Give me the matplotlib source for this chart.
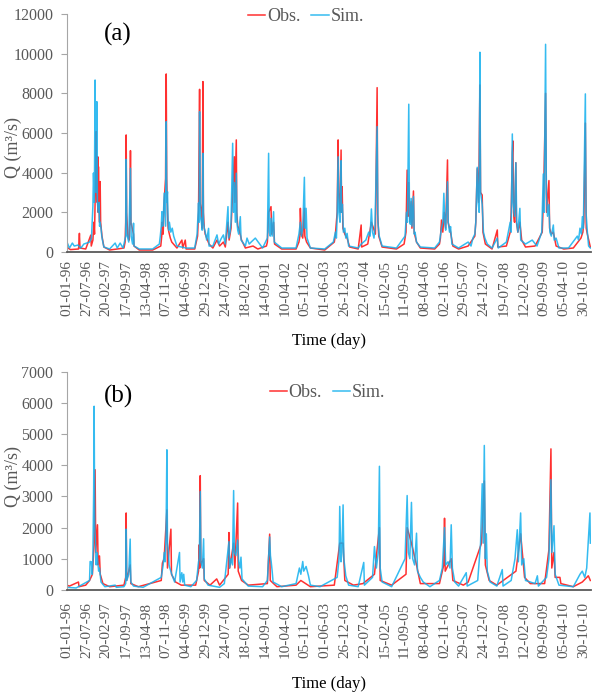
import numpy as np
import matplotlib
matplotlib.use("Agg")
import matplotlib.pyplot as plt

plt.rcParams['font.family'] = ['Liberation Serif', 'DejaVu Serif']

# days counted from 01-01-1996, discharge in m3/s
a_obs = [(0, 250), (40, 120), (125, 150), (134, 940), (140, 200), (200, 150), (253, 850), (258, 300),
         (275, 600), (285, 1500), (292, 900), (300, 3000), (309, 6070), (314, 3500), (320, 2500),
         (326, 4800), (330, 2000), (333, 4300), (338, 2500), (345, 1500), (351, 3550), (356, 1500),
         (370, 800), (390, 250), (450, 100), (530, 150), (600, 200), (612, 500), (618, 1500),
         (623, 5900), (628, 2000), (640, 800), (655, 600), (662, 1500), (668, 5110), (673, 1500),
         (700, 900), (705, 300), (760, 100), (900, 100), (985, 300), (995, 800), (1000, 1500),
         (1010, 900), (1020, 2500), (1035, 3700), (1042, 8975), (1047, 3730), (1055, 2000),
         (1062, 1200), (1070, 1000), (1085, 700), (1100, 500), (1154, 200), (1206, 600), (1215, 200),
         (1241, 600), (1250, 150), (1340, 150), (1370, 800), (1380, 2000), (1391, 8200), (1396, 2500),
         (1410, 2000), (1418, 1200), (1426, 8590), (1431, 2000), (1440, 1200), (1450, 900),
         (1490, 400), (1530, 200), (1573, 600), (1600, 300), (1640, 500), (1660, 250), (1688, 1500),
         (1700, 600), (1720, 1200), (1737, 3000), (1754, 4800), (1760, 2500), (1775, 5650),
         (1780, 2000), (1790, 1300), (1800, 1200), (1830, 600), (1870, 200), (1950, 300), (2000, 150),
         (2090, 300), (2100, 500), (2113, 2000), (2138, 2285), (2145, 900), (2165, 1500), (2175, 400),
         (2250, 150), (2400, 150), (2430, 500), (2440, 800), (2445, 2200), (2455, 900), (2470, 700),
         (2487, 2200), (2492, 800), (2510, 500), (2550, 200), (2700, 100), (2800, 500), (2810, 800),
         (2830, 2000), (2840, 5650), (2846, 3000), (2860, 2000), (2871, 5140), (2876, 2000),
         (2882, 3290), (2890, 1200), (2910, 900), (2934, 700), (2960, 250), (3050, 150), (3081, 1360),
         (3086, 250), (3150, 400), (3188, 1500), (3210, 1200), (3230, 900), (3248, 8285), (3254, 1900),
         (3265, 800), (3300, 250), (3450, 150), (3530, 400), (3550, 1000), (3562, 4130), (3570, 1800),
         (3579, 3500), (3590, 1500), (3604, 2540), (3612, 1200), (3628, 3075), (3635, 1000),
         (3660, 500), (3700, 200), (3850, 150), (3900, 400), (3910, 700), (3921, 1610), (3935, 1000),
         (3950, 2000), (3965, 1200), (3984, 4640), (3990, 1500), (4016, 1000), (4040, 300),
         (4100, 150), (4200, 300), (4270, 800), (4280, 1500), (4295, 4200), (4310, 2500),
         (4323, 8420), (4330, 3000), (4347, 2870), (4355, 1000), (4380, 400), (4450, 150),
         (4505, 1110), (4510, 250), (4600, 300), (4640, 1000), (4650, 2000), (4662, 5000),
         (4668, 5600), (4675, 2000), (4685, 1500), (4699, 4500), (4705, 1500), (4720, 1000),
         (4741, 1500), (4760, 600), (4800, 250), (4900, 300), (4975, 1000), (4990, 3000),
         (5010, 8000), (5020, 2000), (5045, 3600), (5052, 1200), (5070, 900), (5091, 1000),
         (5120, 300), (5200, 150), (5300, 200), (5380, 700), (5400, 1000), (5410, 1500), (5426, 6500),
         (5435, 1200), (5447, 900), (5478, 250)]

a_sim = [(0, 400), (8, 450), (30, 200), (60, 450), (80, 300), (120, 350), (150, 200), (180, 400),
         (240, 500), (260, 700), (268, 1500), (275, 2300), (281, 3980), (290, 2500), (298, 8670),
         (304, 4000), (310, 3000), (316, 7580), (322, 2500), (330, 2000), (340, 2500), (345, 1300),
         (350, 1500), (360, 1200), (368, 800), (375, 600), (390, 250), (450, 150), (508, 450),
         (530, 200), (560, 450), (590, 200), (600, 400), (618, 800), (623, 4670), (630, 900),
         (650, 500), (668, 4220), (675, 800), (690, 400), (700, 1450), (706, 300), (760, 150),
         (900, 150), (970, 400), (980, 800), (990, 1300), (997, 2030), (1005, 1300), (1012, 1800),
         (1021, 2970), (1030, 2000), (1036, 1300), (1042, 6570), (1048, 2500), (1055, 3040),
         (1062, 1500), (1068, 1100), (1075, 1500), (1090, 1000), (1105, 1200), (1120, 800),
         (1154, 300), (1250, 200), (1340, 200), (1365, 900), (1380, 2470), (1386, 1500), (1391, 7075),
         (1398, 1800), (1410, 1500), (1418, 1100), (1426, 4975), (1432, 1500), (1440, 1200),
         (1450, 1000), (1465, 600), (1485, 1190), (1490, 300), (1530, 300), (1573, 860), (1590, 400),
         (1620, 700), (1640, 860), (1660, 400), (1688, 2285), (1695, 700), (1710, 1000), (1720, 1500),
         (1737, 5480), (1745, 2000), (1754, 3500), (1765, 1500), (1775, 3970), (1782, 1500),
         (1790, 1100), (1800, 900), (1817, 1780), (1825, 600), (1870, 300), (1887, 700), (1910, 400),
         (1930, 500), (1974, 700), (2050, 200), (2100, 700), (2113, 4975), (2120, 1000), (2130, 800),
         (2138, 1700), (2150, 800), (2165, 2030), (2172, 500), (2250, 200), (2400, 200), (2430, 900),
         (2445, 1500), (2455, 800), (2470, 1200), (2487, 3765), (2495, 1200), (2505, 2200),
         (2515, 700), (2550, 200), (2700, 150), (2790, 500), (2812, 1000), (2822, 700), (2830, 1800),
         (2840, 4800), (2848, 2000), (2860, 1500), (2871, 4600), (2876, 2000), (2885, 2400),
         (2895, 1000), (2910, 1200), (2920, 700), (2934, 940), (2950, 300), (3050, 200), (3081, 400),
         (3130, 600), (3160, 1000), (3175, 800), (3188, 2170), (3200, 1000), (3215, 700), (3225, 1200),
         (3248, 6320), (3256, 1500), (3270, 800), (3300, 300), (3450, 200), (3540, 800), (3555, 2000),
         (3565, 1500), (3579, 7450), (3586, 2000), (3595, 1400), (3604, 2700), (3612, 1300),
         (3628, 2800), (3636, 900), (3645, 1000), (3660, 500), (3700, 250), (3850, 200), (3900, 500),
         (3921, 1200), (3935, 1500), (3946, 2960), (3955, 1500), (3965, 1100), (3984, 3540),
         (3992, 1500), (4005, 1000), (4016, 1280), (4030, 400), (4100, 200), (4200, 500), (4230, 300),
         (4250, 700), (4270, 900), (4280, 1500), (4295, 4270), (4305, 2500), (4315, 2000),
         (4323, 10070), (4330, 3000), (4347, 2400), (4360, 1000), (4375, 700), (4400, 400),
         (4450, 200), (4505, 700), (4515, 200), (4600, 500), (4640, 1500), (4650, 1000), (4662, 5950),
         (4670, 2500), (4685, 1800), (4699, 4500), (4708, 1500), (4720, 1000), (4741, 2200),
         (4750, 600), (4800, 400), (4870, 600), (4920, 300), (4970, 1000), (4986, 3930), (4995, 2000),
         (5010, 10470), (5018, 3000), (5030, 1800), (5045, 2400), (5055, 1000), (5070, 800),
         (5091, 1360), (5100, 600), (5120, 700), (5150, 200), (5250, 200), (5342, 800), (5355, 600),
         (5370, 1200), (5385, 900), (5395, 1780), (5405, 1200), (5426, 7970), (5433, 2000),
         (5447, 1000), (5460, 300), (5478, 200)]

b_obs = [(0, 150), (30, 120), (124, 250), (130, 100), (200, 150), (240, 300), (270, 500), (288, 1500),
         (298, 3860), (305, 1200), (323, 2090), (330, 800), (344, 1090), (352, 500), (380, 200),
         (450, 100), (600, 150), (618, 400), (623, 2470), (628, 300), (665, 800), (672, 200), (750, 100),
         (990, 300), (1002, 860), (1020, 1000), (1049, 2570), (1055, 700), (1091, 1950), (1097, 500),
         (1140, 250), (1200, 150), (1350, 150), (1380, 600), (1388, 1450), (1393, 700), (1398, 3670),
         (1404, 800), (1433, 1000), (1440, 300), (1500, 150), (1570, 350), (1600, 150), (1690, 500),
         (1698, 1840), (1705, 700), (1747, 1500), (1760, 700), (1789, 2790), (1795, 600), (1830, 300),
         (1900, 150), (2100, 200), (2124, 1790), (2130, 300), (2200, 100), (2400, 150), (2450, 300),
         (2550, 100), (2800, 150), (2857, 1500), (2892, 1500), (2910, 300), (3000, 150), (3100, 200),
         (3220, 500), (3272, 2000), (3280, 300), (3400, 150), (3550, 500), (3562, 2000), (3607, 1500),
         (3660, 800), (3700, 200), (3900, 200), (3945, 800), (3953, 2300), (3960, 600), (4023, 1000),
         (4040, 300), (4150, 150), (4200, 250), (4340, 1500), (4369, 3500), (4380, 800), (4420, 300),
         (4500, 150), (4700, 600), (4749, 1800), (4790, 400), (4850, 200), (5000, 200), (5045, 1290),
         (5066, 4530), (5075, 700), (5098, 1200), (5110, 400), (5160, 400), (5170, 200), (5300, 100),
         (5394, 250), (5457, 450), (5478, 300)]

b_sim = [(0, 80), (100, 60), (240, 300), (246, 910), (260, 900), (268, 500), (275, 1000), (283, 3160),
         (288, 5900), (294, 2000), (300, 1700), (310, 800), (316, 1200), (323, 1000), (335, 600),
         (344, 700), (360, 250), (400, 100), (508, 150), (520, 80), (600, 100), (618, 200), (623, 1950),
         (630, 300), (650, 500), (665, 1630), (672, 250), (700, 120), (800, 80), (990, 400),
         (1010, 800), (1021, 1200), (1030, 900), (1040, 1700), (1049, 4500), (1055, 1500),
         (1065, 1200), (1072, 800), (1080, 700), (1100, 500), (1130, 250), (1181, 1200), (1187, 250),
         (1205, 550), (1215, 250), (1225, 500), (1235, 150), (1300, 100), (1360, 300), (1380, 900),
         (1388, 1000), (1398, 3160), (1405, 900), (1420, 700), (1433, 1640), (1440, 350), (1480, 150),
         (1600, 80), (1650, 200), (1698, 1550), (1705, 700), (1720, 1000), (1735, 800), (1747, 3190),
         (1755, 1200), (1770, 1100), (1789, 1600), (1800, 900), (1812, 700), (1824, 1050), (1835, 350),
         (1900, 120), (2050, 100), (2100, 300), (2124, 1700), (2132, 1100), (2140, 900), (2150, 600),
         (2160, 250), (2250, 100), (2400, 200), (2435, 700), (2450, 500), (2470, 910), (2480, 600),
         (2505, 750), (2530, 450), (2550, 150), (2650, 100), (2830, 400), (2850, 1000), (2857, 2680),
         (2870, 900), (2880, 1200), (2892, 2730), (2900, 1000), (2920, 450), (2950, 150), (3050, 100),
         (3108, 880), (3115, 150), (3200, 400), (3220, 1390), (3240, 700), (3260, 1200), (3272, 3970),
         (3280, 700), (3300, 250), (3400, 100), (3540, 1000), (3562, 3030), (3575, 1200), (3590, 1000),
         (3607, 2810), (3620, 1000), (3640, 800), (3660, 1820), (3670, 600), (3700, 400), (3730, 250),
         (3800, 100), (3900, 300), (3930, 700), (3953, 2000), (3965, 800), (3990, 900), (4010, 700),
         (4023, 2090), (4035, 700), (4060, 250), (4100, 120), (4180, 550), (4190, 120), (4300, 300),
         (4330, 1500), (4347, 3410), (4358, 1500), (4369, 4640), (4380, 1000), (4390, 1800),
         (4400, 600), (4430, 250), (4500, 120), (4557, 650), (4565, 120), (4650, 300), (4690, 1000),
         (4714, 1930), (4725, 900), (4749, 2470), (4760, 800), (4782, 1000), (4800, 300), (4900, 200),
         (4924, 450), (4935, 120), (5020, 400), (5045, 1000), (5066, 3540), (5075, 1200), (5098, 2060),
         (5110, 500), (5150, 150), (5300, 100), (5370, 500), (5394, 600), (5420, 400), (5440, 700),
         (5474, 2470), (5478, 1500)]

tick_days = np.arange(0, 5409, 208)
tick_labels = ["01-01-96", "27-07-96", "20-02-97", "17-09-97", "13-04-98", "07-11-98", "04-06-99",
               "29-12-99", "24-07-00", "18-02-01", "14-09-01", "10-04-02", "05-11-02", "01-06-03",
               "26-12-03", "22-07-04", "15-02-05", "11-09-05", "08-04-06", "02-11-06", "29-05-07",
               "24-12-07", "19-07-08", "12-02-09", "09-09-09", "05-04-10", "30-10-10"]

obs_color = "#FF3030"
sim_color = "#12B0EE"
gray = "#595959"

fig = plt.figure(figsize=(5.92, 6.98), dpi=100)
ax1 = fig.add_axes([0.1125, 0.639, 0.885, 0.341])
ax2 = fig.add_axes([0.1125, 0.155, 0.885, 0.312])


def draw(ax, obs, sim, ymax, ystep, tag, tag_y, leg_xy, ylab_y, xpad, xlabpad):
    od, oq = zip(*obs)
    sd, sq = zip(*sim)
    ax.plot(od, oq, color=obs_color, lw=1.1, label="Obs.")
    ax.plot(sd, sq, color=sim_color, lw=1.1, alpha=0.85, label="Sim.")
    ax.set_xlim(0, 5480)
    ax.set_ylim(0, ymax)
    ax.set_yticks(np.arange(0, ymax + 1, ystep))
    ax.set_xticks(tick_days)
    ax.set_xticklabels(tick_labels, rotation=90)
    ax.tick_params(axis='x', length=0, pad=xpad, labelsize=11, labelcolor=gray)
    ax.tick_params(axis='y', length=4, width=0.8, pad=5.5, color="#A6A6A6", labelsize=11.5,
                   labelcolor=gray)
    for s in ["top", "right"]:
        ax.spines[s].set_visible(False)
    ax.spines["left"].set_color("#A6A6A6")
    ax.spines["bottom"].set_color(gray)
    ax.spines["bottom"].set_linewidth(1.3)
    ax.set_ylabel("Q (m³/s)", fontsize=13, color=gray)
    ax.yaxis.set_label_coords(-0.086, ylab_y)
    ax.set_xlabel("Time (day)", fontsize=12, color="black", labelpad=xlabpad)
    ax.text(0.072, tag_y, tag, transform=ax.transAxes, fontsize=18, va="center")
    leg = ax.legend(loc="center", bbox_to_anchor=leg_xy, ncol=2, frameon=False,
                    fontsize=13, handlelength=0.95, handletextpad=0.1, columnspacing=0.6,
                    borderaxespad=0)
    for t in leg.get_texts():
        t.set_color(gray)


draw(ax1, a_obs, a_sim, 12000, 2000, "(a)", 0.915, (0.457, 0.99), 0.44, 6, 12)
draw(ax2, b_obs, b_sim, 7000, 1000, "(b)", 0.89, (0.498, 0.905), 0.52, 9, 13)

fig.savefig("out.png", dpi=100)
